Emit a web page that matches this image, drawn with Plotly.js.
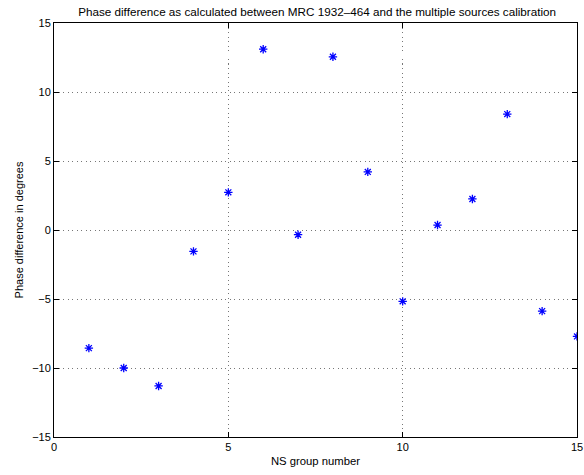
<!DOCTYPE html>
<html>
<head>
<meta charset="utf-8">
<script src="https://cdn.plot.ly/plotly-3.0.1.min.js"></script>
<style>html,body{margin:0;padding:0;background:#fff;}#chart{width:584px;height:475px;}</style>
</head>
<body>
<div id="chart"></div>
<script>
const groupNumbers = [1, 2, 3, 4, 5, 6, 7, 8, 9, 10, 11, 12, 13, 14, 15];
const phaseDiff = [-8.56, -10.0, -11.3, -1.55, 2.73, 13.1, -0.34, 12.55, 4.21, -5.17, 0.36, 2.25, 8.4, -5.88, -7.71];
const xTicks = [0, 5, 10, 15];
const yTicks = [-15, -10, -5, 0, 5, 10, 15];

const fontFam = 'Liberation Sans, Arial, Helvetica, sans-serif';

const trace = {
  x: groupNumbers,
  y: phaseDiff,
  type: 'scatter',
  mode: 'markers',
  marker: {symbol: 'asterisk-open', size: 7, color: '#0000ff', line: {color: '#0000ff', width: 1.3}},
  hoverinfo: 'x+y'
};

const axisCommon = {
  showline: true,
  linecolor: '#000',
  linewidth: 1,
  mirror: 'ticks',
  ticks: 'inside',
  ticklen: 5,
  tickcolor: '#000',
  tickwidth: 1,
  showgrid: true,
  gridcolor: '#777',
  griddash: '1px,3.5px',
  gridwidth: 1,
  zeroline: false,
  tickfont: {family: fontFam, size: 11, color: '#000'}
};

const layout = {
  width: 584,
  height: 475,
  margin: {l: 54, r: 7, t: 23, b: 38},
  paper_bgcolor: '#fff',
  plot_bgcolor: '#fff',
  showlegend: false,
  title: {
    text: 'Phase difference as calculated between MRC 1932\u2013464 and the multiple sources calibration',
    font: {family: fontFam, size: 11.7, color: '#000'},
    x: 0.543, xanchor: 'center', y: 0.975, yanchor: 'middle'
  },
  xaxis: Object.assign({}, axisCommon, {
    range: [0, 15],
    tickvals: xTicks,
    title: {text: 'NS group number', font: {family: fontFam, size: 11.3, color: '#000'}, standoff: 4}
  }),
  yaxis: Object.assign({}, axisCommon, {
    range: [-15, 15],
    tickvals: yTicks,
    title: {text: 'Phase difference in degrees', font: {family: fontFam, size: 11, color: '#000'}, standoff: 6}
  })
};

Plotly.newPlot('chart', [trace], layout, {displayModeBar: false, staticPlot: true});
</script>
</body>
</html>
